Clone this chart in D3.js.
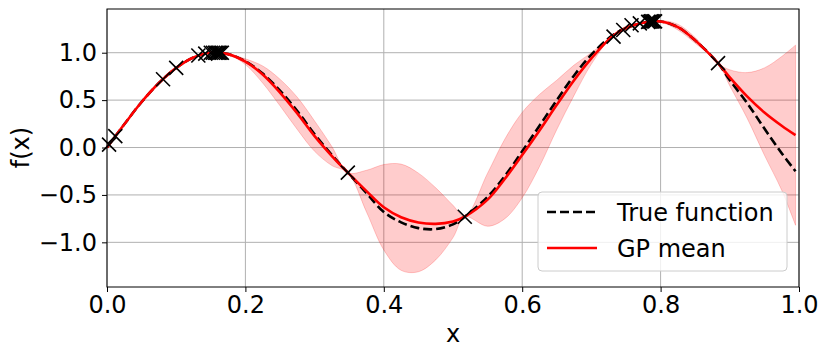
<!DOCTYPE html>
<html>
<head>
<meta charset="utf-8">
<script src="https://cdn.jsdelivr.net/npm/d3@7"></script>
<style>
  body { margin: 0; background: #fff; }
  svg { display: block; font-family: "DejaVu Sans", sans-serif; }
</style>
</head>
<body>
<div id="chart"></div>
<script>
// grid the curves were read on
const xs = [0, 0.025, 0.05, 0.075, 0.10, 0.125, 0.15, 0.175, 0.20, 0.225, 0.25, 0.275, 0.30, 0.325, 0.348,
  0.375, 0.40, 0.425, 0.45, 0.475, 0.50, 0.517, 0.55, 0.575, 0.60, 0.625, 0.65, 0.675, 0.70, 0.73,
  0.75, 0.775, 0.80, 0.825, 0.85, 0.883, 0.90, 0.925, 0.95, 0.975, 0.995];

const trueF = [0.00, 0.245, 0.48, 0.68, 0.84, 0.95, 1.00, 0.985, 0.91, 0.78, 0.60, 0.385, 0.14, -0.08, -0.265,
  -0.48, -0.68, -0.79, -0.85, -0.86, -0.81, -0.73, -0.52, -0.30, -0.04, 0.23, 0.50, 0.76, 0.98, 1.18,
  1.26, 1.315, 1.33, 1.27, 1.13, 0.89, 0.71, 0.47, 0.20, -0.06, -0.25];

const gpMean = [0.00, 0.245, 0.48, 0.68, 0.84, 0.95, 1.00, 0.985, 0.905, 0.77, 0.58, 0.36, 0.12, -0.09, -0.265,
  -0.46, -0.63, -0.735, -0.79, -0.805, -0.78, -0.73, -0.55, -0.33, -0.08, 0.18, 0.45, 0.71, 0.94, 1.17,
  1.26, 1.315, 1.33, 1.27, 1.13, 0.89, 0.74, 0.54, 0.37, 0.23, 0.13];

const bandUpper = [0.00, 0.245, 0.48, 0.68, 0.84, 0.95, 1.00, 0.99, 0.935, 0.86, 0.72, 0.53, 0.28, 0.01, -0.265,
  -0.24, -0.18, -0.175, -0.27, -0.425, -0.61, -0.73, -0.27, 0.09, 0.37, 0.56, 0.71, 0.87, 1.00, 1.17,
  1.28, 1.32, 1.34, 1.30, 1.16, 0.89, 0.82, 0.79, 0.84, 0.96, 1.08];

const bandLower = [0.00, 0.245, 0.48, 0.68, 0.84, 0.95, 1.00, 0.98, 0.875, 0.68, 0.44, 0.19, -0.04, -0.19, -0.265,
  -0.68, -1.08, -1.295, -1.31, -1.185, -0.95, -0.73, -0.83, -0.75, -0.53, -0.20, 0.19, 0.55, 0.88, 1.17,
  1.24, 1.31, 1.32, 1.24, 1.10, 0.89, 0.65, 0.31, -0.08, -0.45, -0.82];

// observed samples (x markers)
const obsX = [0.003, 0.012, 0.081, 0.100, 0.132, 0.142, 0.150, 0.153, 0.156, 0.158, 0.160, 0.162, 0.164, 0.166,
  0.348, 0.517, 0.732, 0.746, 0.758, 0.770, 0.782, 0.784, 0.786, 0.788, 0.790, 0.792, 0.883];
const obsY = [0.03, 0.12, 0.72, 0.84, 0.97, 0.99, 1.00, 1.00, 1.00, 1.00, 1.00, 1.00, 1.00, 1.00,
  -0.265, -0.73, 1.17, 1.24, 1.29, 1.31, 1.325, 1.327, 1.33, 1.33, 1.33, 1.33, 0.89];

const xTicks = [0.0, 0.2, 0.4, 0.6, 0.8, 1.0];
const yTicks = [-1.0, -0.5, 0.0, 0.5, 1.0];
const yLimits = [-1.471, 1.461];
const legendNames = ['True function', 'GP mean'];

const width = 831, height = 356;
const margin = { top: 9, right: 32, bottom: 69, left: 107 };

const svg = d3.select('#chart').append('svg')
  .attr('width', width)
  .attr('height', height);

const x = d3.scaleLinear().domain([0, 1]).range([margin.left, width - margin.right]);
const y = d3.scaleLinear().domain(yLimits).range([height - margin.bottom, margin.top]);

const rows = xs.map((v, i) => ({ x: v, t: trueF[i], m: gpMean[i], hi: bandUpper[i], lo: bandLower[i] }));

// grid
svg.append('g')
  .selectAll('line')
  .data(xTicks)
  .join('line')
  .attr('x1', d => x(d)).attr('x2', d => x(d))
  .attr('y1', margin.top).attr('y2', height - margin.bottom)
  .attr('stroke', '#b0b0b0').attr('stroke-width', 1);
svg.append('g')
  .selectAll('line')
  .data(yTicks)
  .join('line')
  .attr('x1', margin.left).attr('x2', width - margin.right)
  .attr('y1', d => y(d)).attr('y2', d => y(d))
  .attr('stroke', '#b0b0b0').attr('stroke-width', 1);

const curve = d3.curveCatmullRom.alpha(0.5);

// uncertainty band
const band = d3.area()
  .x(d => x(d.x))
  .y0(d => y(d.lo))
  .y1(d => y(d.hi))
  .curve(curve);
svg.append('path')
  .datum(rows)
  .attr('d', band)
  .attr('fill', 'red')
  .attr('fill-opacity', 0.2)
  .attr('stroke', 'red')
  .attr('stroke-opacity', 0.2)
  .attr('stroke-width', 1);

// true function
svg.append('path')
  .datum(rows)
  .attr('d', d3.line().x(d => x(d.x)).y(d => y(d.t)).curve(curve))
  .attr('fill', 'none')
  .attr('stroke', '#000')
  .attr('stroke-width', 2.6)
  .attr('stroke-dasharray', '9,4');

// gp mean
svg.append('path')
  .datum(rows)
  .attr('d', d3.line().x(d => x(d.x)).y(d => y(d.m)).curve(curve))
  .attr('fill', 'none')
  .attr('stroke', 'red')
  .attr('stroke-width', 2.6);

// observations
const s = 7;
svg.append('g')
  .selectAll('path')
  .data(obsX.map((v, i) => [v, obsY[i]]))
  .join('path')
  .attr('d', d => {
    const cx = x(d[0]), cy = y(d[1]);
    return `M${cx - s},${cy - s}L${cx + s},${cy + s}M${cx - s},${cy + s}L${cx + s},${cy - s}`;
  })
  .attr('stroke', '#000')
  .attr('stroke-width', 1.6)
  .attr('fill', 'none');

// axes
const xAxis = svg.append('g')
  .attr('transform', `translate(0,${height - margin.bottom})`)
  .call(d3.axisBottom(x).tickValues(xTicks).tickFormat(d3.format('.1f')).tickSize(5).tickPadding(4));
const yAxis = svg.append('g')
  .attr('transform', `translate(${margin.left},0)`)
  .call(d3.axisLeft(y).tickValues(yTicks).tickFormat(d => d3.format('.1f')(d).replace('-', '\u2212')).tickSize(5).tickPadding(5));
[xAxis, yAxis].forEach(g => {
  g.select('.domain').remove();
  g.selectAll('text').attr('font-size', 24).attr('font-family', '"DejaVu Sans", sans-serif').attr('fill', '#000');
  g.selectAll('line').attr('stroke', '#000');
});

// frame
svg.append('rect')
  .attr('x', margin.left).attr('y', margin.top)
  .attr('width', width - margin.left - margin.right)
  .attr('height', height - margin.top - margin.bottom)
  .attr('fill', 'none')
  .attr('stroke', '#000')
  .attr('stroke-width', 1);

svg.append('text')
  .attr('x', (margin.left + width - margin.right) / 2)
  .attr('y', 342)
  .attr('text-anchor', 'middle')
  .attr('font-size', 24)
  .text('x');
svg.append('text')
  .attr('transform', `translate(29,${y(0)}) rotate(-90)`)
  .attr('text-anchor', 'middle')
  .attr('font-size', 24)
  .text('f(x)');

// legend
const lg = svg.append('g').attr('transform', 'translate(538,192)');
lg.append('rect')
  .attr('width', 249).attr('height', 79)
  .attr('rx', 4)
  .attr('fill', '#fff').attr('fill-opacity', 0.8)
  .attr('stroke', '#cccccc');
lg.append('line')
  .attr('x1', 9).attr('x2', 59).attr('y1', 20).attr('y2', 20)
  .attr('stroke', '#000').attr('stroke-width', 2.6).attr('stroke-dasharray', '9,4');
lg.append('line')
  .attr('x1', 9).attr('x2', 59).attr('y1', 56).attr('y2', 56)
  .attr('stroke', 'red').attr('stroke-width', 2.6);
lg.selectAll('text')
  .data(legendNames)
  .join('text')
  .attr('x', 79)
  .attr('y', (d, i) => 28.5 + i * 36)
  .attr('font-size', 24)
  .text(d => d);
</script>
</body>
</html>
